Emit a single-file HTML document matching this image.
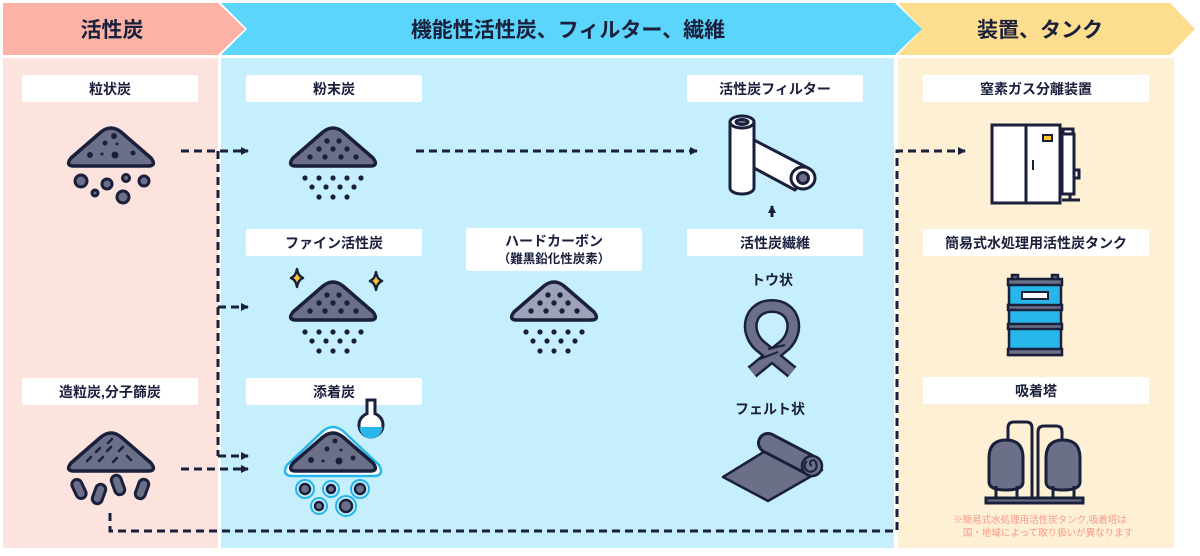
<!DOCTYPE html>
<html><head><meta charset="utf-8"><style>
body{margin:0;background:#fff;}
svg text{font-family:"Liberation Sans","Noto Sans CJK JP",sans-serif;font-weight:bold;fill:#1a1f3c;text-anchor:middle;}
</style></head><body>
<svg width="1200" height="551" viewBox="0 0 1200 551" xmlns="http://www.w3.org/2000/svg">
<defs>
<marker id="ah" markerWidth="8" markerHeight="8" refX="7" refY="4" orient="auto" markerUnits="userSpaceOnUse"><path d="M0,0 L8,4 L0,8 Z" fill="#1a1f3c"/></marker>
<path id="pshape" d="M-40,12 L-10,-14 Q0,-22 10,-14 L40,12 Q46,20 37,20 L-37,20 Q-46,20 -40,12 Z"/>
<g id="pile"><use href="#pshape" fill="#6b7088" stroke="#1a1f3c" stroke-width="3.5" stroke-linejoin="round"/></g>
<g id="fine" fill="#1a1f3c"><circle cx="-28" cy="32" r="2.6"/><circle cx="-14" cy="32" r="2.6"/><circle cx="0" cy="32" r="2.6"/><circle cx="14" cy="32" r="2.6"/><circle cx="28" cy="32" r="2.6"/><circle cx="-21" cy="41" r="2.6"/><circle cx="-7" cy="41" r="2.6"/><circle cx="7" cy="41" r="2.6"/><circle cx="21" cy="41" r="2.6"/><circle cx="-14" cy="51" r="2.6"/><circle cx="0" cy="51" r="2.6"/><circle cx="14" cy="51" r="2.6"/></g>
<g id="pdots" fill="#1a1f3c"><circle cx="-6" cy="-5" r="2.7"/><circle cx="6" cy="-5" r="2.7"/><circle cx="-14" cy="3" r="2.7"/><circle cx="0" cy="3" r="2.7"/><circle cx="14" cy="3" r="2.7"/><circle cx="-23" cy="11" r="2.7"/><circle cx="-8" cy="11" r="2.7"/><circle cx="8" cy="11" r="2.7"/><circle cx="23" cy="11" r="2.7"/></g>
</defs>
<rect x="3" y="58" width="215" height="490" fill="#fde3de"/>
<rect x="221" y="58" width="673" height="490" fill="#c5effc"/>
<rect x="898" y="58" width="276" height="490" fill="#fef0d5"/>
<polygon points="898,3 1170,3 1195,29 1170,55 898,55 922,29" fill="#fddd8e"/>
<polygon points="221,3 895,3 922,29 895,55 221,55 247,29" fill="#5bd5fb"/>
<polygon points="3,3 218,3 245,29 218,55 3,55" fill="#fcb3a6"/>
<text x="112" y="37" font-size="21">活性炭</text>
<text x="568" y="37" font-size="21">機能性活性炭、フィルター、繊維</text>
<text x="1040" y="37" font-size="21">装置、タンク</text>
<g fill="#fff">
<rect x="22" y="75" width="176" height="27" rx="2"/><rect x="22" y="378" width="176" height="27" rx="2"/>
<rect x="246" y="75" width="176" height="27" rx="2"/><rect x="246" y="229" width="176" height="27" rx="2"/><rect x="246" y="378" width="176" height="27" rx="2"/>
<rect x="466" y="228" width="176" height="43" rx="3"/>
<rect x="687" y="75" width="176" height="27" rx="2"/><rect x="687" y="229" width="176" height="27" rx="2"/>
<rect x="923" y="75" width="226" height="27" rx="2"/><rect x="923" y="229" width="226" height="27" rx="2"/><rect x="923" y="377" width="226" height="27" rx="2"/>
</g>
<g font-size="14">
<text x="110" y="94">粒状炭</text><text x="110" y="397">造粒炭,分子篩炭</text>
<text x="334" y="94">粉末炭</text><text x="334" y="248">ファイン活性炭</text><text x="334" y="397">添着炭</text>
<text x="554" y="246">ハードカーボン</text><text x="554" y="263" font-size="12.5">（難黒鉛化性炭素）</text>
<text x="775" y="94">活性炭フィルター</text><text x="775" y="248">活性炭繊維</text>
<text x="772" y="285">トウ状</text><text x="770" y="414">フェルト状</text>
<text x="1036" y="94">窒素ガス分離装置</text><text x="1036" y="248">簡易式水処理用活性炭タンク</text><text x="1036" y="396">吸着塔</text>
</g>
<text x="1040" y="523" font-size="9.5" style="fill:#f7998a;font-weight:normal">※簡易式水処理用活性炭タンク,吸着塔は</text>
<text x="1048" y="536" font-size="9.5" style="fill:#f7998a;font-weight:normal">国・地域によって取り扱いが異なります</text>
<g stroke="#1a1f3c" stroke-width="3" fill="none" stroke-dasharray="8,5">
<path d="M181,151 L248,151" marker-end="url(#ah)"/>
<path d="M218,151 L218,456"/>
<path d="M218,307 L248,307" marker-end="url(#ah)"/>
<path d="M218,456 L248,456" marker-end="url(#ah)"/>
<path d="M181,469 L248,469" marker-end="url(#ah)"/>
<path d="M416,151 L697,151" marker-end="url(#ah)"/>
<path d="M110,513 L110,531 L897,531 L897,151 L965,151" marker-end="url(#ah)"/>
</g>
<path d="M772,217 L772,206" stroke="#1a1f3c" stroke-width="3" marker-end="url(#ah)"/>
<!-- 粒状炭 -->
<g transform="translate(111,146)"><use href="#pile"/><g fill="#1a1f3c"><circle cx="3" cy="-10" r="3"/><circle cx="-6" cy="-3" r="2.5"/><circle cx="6" cy="-2" r="1.5"/><circle cx="-21" cy="9" r="3"/><circle cx="-9" cy="8" r="1.5"/><circle cx="4" cy="9" r="3.5"/><circle cx="22" cy="7" r="2.5"/></g>
<g fill="#6b7088" stroke="#1a1f3c" stroke-width="3"><circle cx="-30" cy="35" r="6"/><circle cx="-4" cy="38" r="5"/><circle cx="15" cy="32" r="3.5"/><circle cx="33" cy="35" r="5"/><circle cx="-16" cy="47" r="3"/><circle cx="12" cy="51" r="6"/></g></g>
<!-- 造粒炭 -->
<g transform="translate(111,451)"><use href="#pile"/><g stroke="#1a1f3c" stroke-width="2.5" stroke-linecap="round"><path d="M-3,-8 l4,-4"/><path d="M-15,1 l4,-4"/><path d="M-4,0 l4,-4"/><path d="M8,0 l4,-4"/><path d="M-24,10 l4,-4"/><path d="M-12,10 l4,-4"/><path d="M2,11 l4,-4"/><path d="M20,9 l-4,-4"/></g>
<g fill="#6b7088" stroke="#1a1f3c" stroke-width="3"><rect x="-37" y="28" width="10" height="20" rx="5" transform="rotate(-25 -32 38)"/><rect x="-17" y="33" width="10" height="20" rx="5" transform="rotate(20 -12 43)"/><rect x="2" y="24" width="10" height="20" rx="5" transform="rotate(-20 7 34)"/><rect x="26" y="28" width="10" height="20" rx="5" transform="rotate(20 31 38)"/></g></g>
<!-- 粉末炭 -->
<g transform="translate(333,146)"><use href="#pile"/><use href="#pdots"/><use href="#fine"/></g>
<!-- ファイン -->
<g transform="translate(333,300)"><use href="#pile"/><use href="#pdots"/><use href="#fine"/>
<path d="M-36,-31 q1,7 6,9 q-5,2 -6,9 q-1,-7 -6,-9 q5,-2 6,-9z" fill="#fcc631" stroke="#1a1f3c" stroke-width="2.5" stroke-linejoin="round"/>
<path d="M43,-28 q1,7 6,9 q-5,2 -6,9 q-1,-7 -6,-9 q5,-2 6,-9z" fill="#fcc631" stroke="#1a1f3c" stroke-width="2.5" stroke-linejoin="round"/></g>
<!-- ハードカーボン -->
<g transform="translate(554,300)"><use href="#pshape" fill="#9ea2b8" stroke="#1a1f3c" stroke-width="3.5" stroke-linejoin="round"/><use href="#pdots"/><use href="#fine"/></g>
<!-- 添着炭 -->
<g transform="translate(333,451)">
<circle cx="38" cy="-26" r="12" fill="#fff" stroke="#1a1f3c" stroke-width="3"/><path d="M26.5,-24 a11.5,11.5 0 0 0 23,0 z" fill="#27b6ea"/>
<path d="M34,-37 L34,-51 L42,-51 L42,-37" fill="#fff" stroke="#1a1f3c" stroke-width="3"/><rect x="35.5" y="-40" width="5" height="6" fill="#fff"/>
<path d="M-46,14 L-10,-20 Q0,-28 10,-20 L46,14 Q52,25 40,25 L-40,25 Q-52,25 -46,14 Z" fill="#fff" stroke="#27b6ea" stroke-width="2.5"/>
<use href="#pile"/><g fill="#1a1f3c"><circle cx="2" cy="-10" r="2.5"/><circle cx="-6" cy="-2" r="2.5"/><circle cx="8" cy="-1" r="1.5"/><circle cx="-22" cy="9" r="3"/><circle cx="-10" cy="10" r="1.5"/><circle cx="6" cy="10" r="3.5"/><circle cx="20" cy="7" r="2.5"/></g>
<g fill="#6b7088" stroke="#1a1f3c" stroke-width="2.5"><circle cx="-28" cy="38" r="5"/><circle cx="-2" cy="38" r="4"/><circle cx="27" cy="38" r="5"/><circle cx="-14" cy="55" r="4"/><circle cx="13" cy="55" r="6"/></g>
<g fill="none" stroke="#27b6ea" stroke-width="2"><circle cx="-28" cy="38" r="9"/><circle cx="-2" cy="38" r="8"/><circle cx="27" cy="38" r="9"/><circle cx="-14" cy="55" r="8"/><circle cx="13" cy="55" r="10"/></g></g>
<!-- filter -->
<g stroke="#1a1f3c" stroke-width="3" stroke-linejoin="round">
<path d="M754,140 L808,168 L795,190 L754,168 Z" fill="#fff"/>
<path d="M730,122 L730,188 a12,6 0 0 0 24,0 L754,122 Z" fill="#fff"/>
<ellipse cx="742" cy="122" rx="12" ry="6" fill="#fff"/><ellipse cx="742" cy="122" rx="6" ry="2.5" fill="#6b7088"/>
<ellipse cx="803" cy="178" rx="12" ry="11" fill="#fff"/><circle cx="803" cy="178" r="5.5" fill="#6b7088"/>
</g>
<!-- tow -->
<g fill="none" stroke-linecap="butt" stroke-linejoin="round">
<path d="M752,372 L785,345 C800,330 794,306 772,306 C750,306 744,330 759,345 L792,372" stroke="#1a1f3c" stroke-width="14"/>
<path d="M752,372 L785,345 C800,330 794,306 772,306 C750,306 744,330 759,345 L792,372" stroke="#6b7088" stroke-width="9"/>
<path d="M768,349 L785,345 M760,359 L778,352" stroke="#1a1f3c" stroke-width="2"/>
</g>
<!-- felt -->
<g stroke="#1a1f3c" stroke-width="2.5" stroke-linejoin="round">
<path d="M723,477 L768,501 L822,470 L775,445 Z" fill="#6b7088"/>
<path d="M768,443 L812,466" stroke="#1a1f3c" stroke-width="22" stroke-linecap="round"/>
<path d="M768,443 L812,466" stroke="#6b7088" stroke-width="16" stroke-linecap="round"/>
<circle cx="812" cy="466" r="10" fill="#6b7088"/><path d="M812,466 a3,3 0 1 1 4,-3 a6,6 0 1 1 -9,-2" fill="none" stroke-width="2"/>
</g>
<!-- N2 device -->
<g stroke="#1a1f3c" stroke-width="3" fill="#fff">
<rect x="992" y="125" width="68" height="78"/><line x1="1026" y1="125" x2="1026" y2="203"/>
<rect x="1043" y="135" width="9" height="6" fill="#fcc631" stroke-width="2"/>
<line x1="1033" y1="160" x2="1033" y2="170" stroke-width="2"/>
<rect x="1062" y="134" width="12" height="60" /><rect x="1063" y="129" width="10" height="5"/>
<rect x="1074" y="170" width="5" height="8"/>
<path d="M1062,200 L1080,200 M1070,194 L1070,200" fill="none"/>
</g>
<!-- tank -->
<g stroke="#1a1f3c" stroke-width="2.5">
<rect x="1009" y="280" width="52" height="75" fill="#27b6ea"/>
<rect x="1008" y="279" width="54" height="6" fill="#6b7088"/>
<rect x="1012" y="275" width="6" height="4" fill="#6b7088"/><rect x="1052" y="275" width="6" height="4" fill="#6b7088"/>
<rect x="1008" y="305" width="54" height="5" fill="#6b7088"/><rect x="1008" y="324" width="54" height="5" fill="#6b7088"/>
<rect x="1008" y="349" width="54" height="6" fill="#6b7088"/>
<rect x="1022" y="292" width="26" height="7" fill="#fff" stroke-width="2"/>
</g>
<!-- tower -->
<g stroke="#1a1f3c" stroke-width="3" fill="#fff">
<path d="M1008,440 L1008,428 q0,-6 6,-6 L1026,422 q6,0 6,6 L1032,500" fill="none"/>
<path d="M1038,500 L1038,432 q0,-6 6,-6 L1056,426 q6,0 6,6 L1062,440" fill="none"/>
<path d="M989,458 q0,-18 17,-18 q17,0 17,18 L1023,482 q0,8 -17,8 q-17,0 -17,-8 Z" fill="#6b7088"/>
<path d="M1046,458 q0,-18 17,-18 q17,0 17,18 L1080,482 q0,8 -17,8 q-17,0 -17,-8 Z" fill="#6b7088"/>
<path d="M996,486 L996,500 M1017,486 L1017,500 M1053,486 L1053,500 M1074,486 L1074,500" fill="none"/>
<rect x="986" y="498" width="97" height="5" fill="#6b7088"/>
</g>
</svg>
</body></html>
